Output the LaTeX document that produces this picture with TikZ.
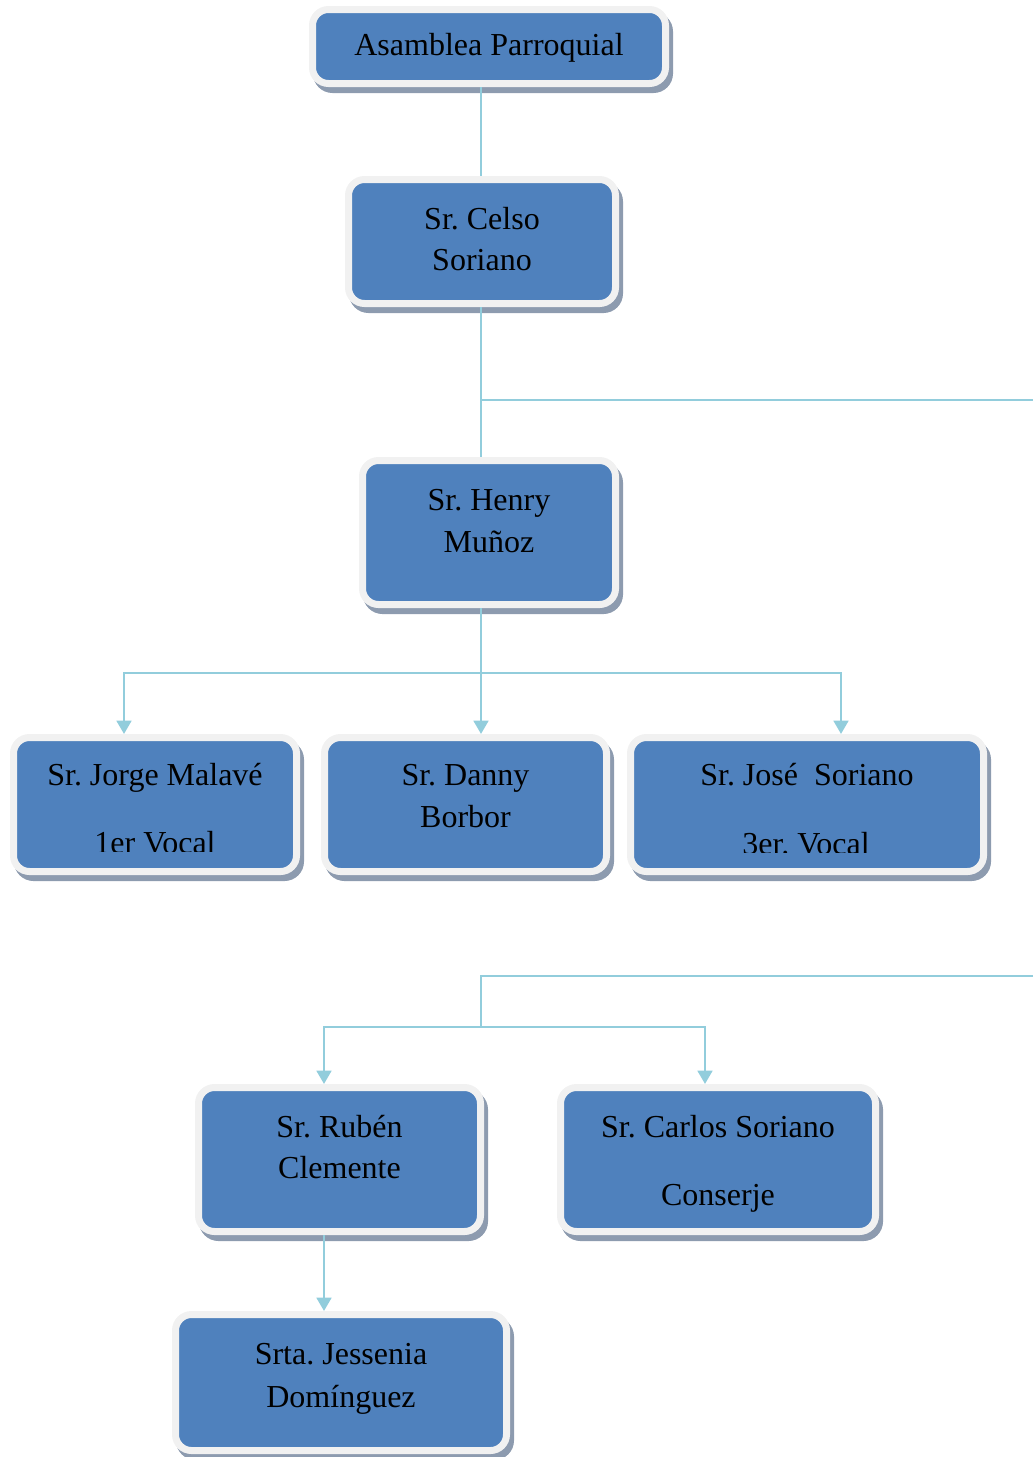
\documentclass[tikz,border=0pt]{standalone}
\usepackage{fontspec}
\setmainfont{Liberation Serif}
\usetikzlibrary{arrows.meta}
\frenchspacing

\definecolor{boxblue}{RGB}{79,129,189}
\definecolor{boxrim}{RGB}{241,241,241}
\definecolor{boxshade}{RGB}{141,155,175}
\definecolor{linkblue}{RGB}{146,205,220}

\tikzset{
  orgbox/.style={rectangle, rounded corners=12pt, fill=boxblue, draw=boxrim,
    line width=5.25pt, outer sep=2.625pt, inner sep=0pt,
    preaction={draw=boxshade, fill=boxshade, line width=5.25pt,
      transform canvas={shift={(3pt,-4.5pt)}}}},
  txt/.style={anchor=base, inner sep=0pt, text=black,
    font=\fontsize{24pt}{31pt}\selectfont},
  link/.style={draw=linkblue, line width=2pt},
  arrowlink/.style={link, -{Triangle[width=11pt,length=10pt]}},
}

\begin{document}
\begin{tikzpicture}[x=0.75pt, y=-0.75pt]
\useasboundingbox (0,0) rectangle (1033,1457);

% boxes (size = inner blue area + half the rim on each side)
\node[orgbox, minimum width=264.75pt, minimum height=55.5pt] (A) at (489,46.5) {};
\node[orgbox, minimum width=200.25pt, minimum height=93pt] (C) at (482,241.5) {};
\node[orgbox, minimum width=189.75pt, minimum height=108pt] (H) at (489,532.5) {};
\node[orgbox, minimum width=212.25pt, minimum height=100.5pt] (J) at (155,804.5) {};
\node[orgbox, minimum width=211.5pt, minimum height=100.5pt] (D) at (465.5,804.5) {};
\node[orgbox, minimum width=264.75pt, minimum height=100.5pt] (S) at (807,804.5) {};
\node[orgbox, minimum width=211.5pt, minimum height=108pt] (R) at (339.5,1159.5) {};
\node[orgbox, minimum width=236.25pt, minimum height=108pt] (K) at (718,1159.5) {};
\node[orgbox, minimum width=248.25pt, minimum height=102pt] (G) at (341,1382.5) {};

% labels
\node[txt] (A-l1) at (489,55) {Asamblea Parroquial};
\node[txt] (C-l1) at (482,229) {Sr. Celso};
\node[txt] (C-l2) at (482,270) {Soriano};
\node[txt] (H-l1) at (489,510) {Sr. Henry};
\node[txt] (H-l2) at (489,552) {Muñoz};
\node[txt] (J-l1) at (155,785) {Sr. Jorge Malavé};
\begin{scope}
  \clip (17,741) rectangle (293,851);
  \node[txt] (J-l2) at (155,853) {1er Vocal};
\end{scope}
\node[txt] (D-l1) at (465.5,785) {Sr. Danny};
\node[txt] (D-l2) at (465.5,827) {Borbor};
\node[txt] (S-l1) at (807,785) {Sr. José~ Soriano};
\begin{scope}
  \clip (634,741) rectangle (980,852.5);
  \node[txt] (S-l2) at (806,854) {3er. Vocal};
\end{scope}
\node[txt] (R-l1) at (339.5,1137) {Sr. Rubén};
\node[txt] (R-l2) at (339.5,1178) {Clemente};
\node[txt] (K-l1) at (718,1137) {Sr. Carlos Soriano};
\node[txt] (K-l2) at (718,1205) {Conserje};
\node[txt] (G-l1) at (341,1364) {Srta. Jessenia};
\node[txt] (G-l2) at (341,1407) {Domínguez};

% connector junctions
\coordinate (spine) at (481,0);
\coordinate (branch1) at (481,400);
\coordinate (edge1) at (1033,400);
\coordinate (bus1) at (481,673);
\coordinate (tapJ) at (124,673);
\coordinate (tapS) at (841,673);
\coordinate (edge2) at (1033,976);
\coordinate (corner2) at (481,976);
\coordinate (bus2) at (481,1027);
\coordinate (tapR) at (324,1027);
\coordinate (tapK) at (705,1027);

% connectors
\draw[link] (A.south -| spine) -- (C.north -| spine);
\draw[link] (C.south -| spine) -- (H.north -| spine);
\draw[link] (branch1) -- (edge1);
\draw[link] (H.south -| spine) -- (bus1);
\draw[arrowlink] (bus1) -- (tapJ) -- (tapJ |- J.north);
\draw[arrowlink] (bus1) -- (bus1 |- D.north);
\draw[arrowlink] (bus1) -- (tapS) -- (tapS |- S.north);
\draw[link] (edge2) -- (corner2) -- (bus2);
\draw[arrowlink] (bus2) -- (tapR) -- (tapR |- R.north);
\draw[arrowlink] (bus2) -- (tapK) -- (tapK |- K.north);
\draw[arrowlink] (R.south -| tapR) -- (tapR |- G.north);
\end{tikzpicture}
\end{document}
